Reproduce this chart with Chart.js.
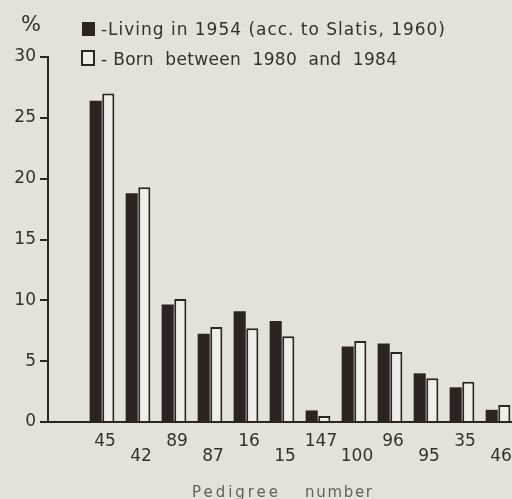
<!DOCTYPE html>
<html>
<head>
<meta charset="utf-8">
<script src="https://cdn.jsdelivr.net/npm/chart.js@4"></script>
<style>
html,body{margin:0;padding:0;background:#e3e1dc;overflow:hidden;}
#wrap{position:relative;width:516px;height:499px;}
</style>
</head>
<body>
<div id="wrap"><canvas id="c" width="516" height="499"></canvas></div>
<script>
const categories = ['', '45', '42', '89', '87', '16', '15', '147', '100', '96', '95', '35', '46'];
const living1954 = [null, 26.4, 18.8, 9.65, 7.25, 9.1, 8.3, 0.95, 6.2, 6.45, 4.0, 2.85, 1.0];
const born1980_84 = [null, 27.0, 19.3, 10.1, 7.8, 7.7, 7.05, 0.5, 6.65, 5.75, 3.6, 3.3, 1.4];
const yTicks = [0, 5, 10, 15, 20, 25, 30];
const seriesNames = ['-Living in 1954 (acc. to Slatis, 1960)', '- Born  between  1980  and  1984'];
const xTitleWords = ['Pedigree', 'number'];
const yUnit = '%';

const INK = '#2a2422';
const TXT = '#35302d';
const FAM = '"DejaVu Sans", Verdana, sans-serif';

function fitText(ctx, text, x, y, width) {
  ctx.letterSpacing = '0px';
  const w = ctx.measureText(text).width;
  const n = Math.max(1, text.length - 1);
  ctx.letterSpacing = ((width - w) / n) + 'px';
  ctx.fillText(text, x, y);
  ctx.letterSpacing = '0px';
}

const legendPlugin = {
  id: 'customLegend',
  afterDraw(chart) {
    const ctx = chart.ctx;
    ctx.save();
    ctx.textBaseline = 'alphabetic';
    ctx.fillStyle = TXT;
    ctx.font = '21px ' + FAM;
    ctx.fillText(yUnit, 21, 31);
    // series 1 swatch
    ctx.fillStyle = INK;
    ctx.fillRect(82, 22, 13, 14);
    // series 2 swatch
    ctx.strokeStyle = INK;
    ctx.lineWidth = 2;
    ctx.fillStyle = '#efede9';
    ctx.fillRect(82, 51, 12, 14);
    ctx.strokeRect(82, 51, 12, 14);
    ctx.fillStyle = TXT;
    ctx.font = '17px ' + FAM;
    fitText(ctx, seriesNames[0], 101, 35, 344);
    fitText(ctx, seriesNames[1], 101, 65, 296);
    // x axis title
    ctx.fillStyle = '#65605b';
    ctx.font = '15px ' + FAM;
    fitText(ctx, xTitleWords[0], 192, 497, 86);
    fitText(ctx, xTitleWords[1], 305, 497, 67);
    ctx.restore();
  }
};

new Chart(document.getElementById('c'), {
  type: 'bar',
  data: {
    labels: categories,
    datasets: [
      { label: seriesNames[0], data: living1954, backgroundColor: INK, borderColor: INK, borderWidth: 0 },
      { label: seriesNames[1], data: born1980_84, backgroundColor: '#efede9', borderColor: INK, borderWidth: 2 }
    ]
  },
  options: {
    responsive: false,
    animation: false,
    events: [],
    categoryPercentage: 0.7,
    barPercentage: 0.96,
    layout: { padding: { top: 57, left: 0, right: 0, bottom: 0 } },
    plugins: { legend: { display: false }, tooltip: { enabled: false } },
    scales: {
      x: {
        grid: { display: false },
        border: { display: true, color: INK, width: 2 },
        ticks: {
          color: TXT,
          padding: 4,
          labelOffset: 3,
          autoSkip: false,
          maxRotation: 0,
          font: { size: 17, family: FAM, lineHeight: '15px' },
          callback: function(v, i) {
            const l = categories[i];
            return (i % 2 === 1) ? [l, ''] : ['', l];
          }
        },
        title: { display: false },
        afterFit(scale) { scale.height = 77; }
      },
      y: {
        min: 0,
        max: 30,
        afterBuildTicks(scale) { scale.ticks = yTicks.map(v => ({ value: v })); },
        grid: { display: true, drawOnChartArea: false, drawTicks: true, tickLength: 8, color: INK, lineWidth: 2 },
        border: { display: true, color: INK, width: 2 },
        ticks: {
          color: TXT,
          padding: 4,
          font: { size: 17, family: FAM }
        },
        afterFit(scale) { scale.width = 48; }
      }
    }
  },
  plugins: [legendPlugin]
});
</script>
</body>
</html>
